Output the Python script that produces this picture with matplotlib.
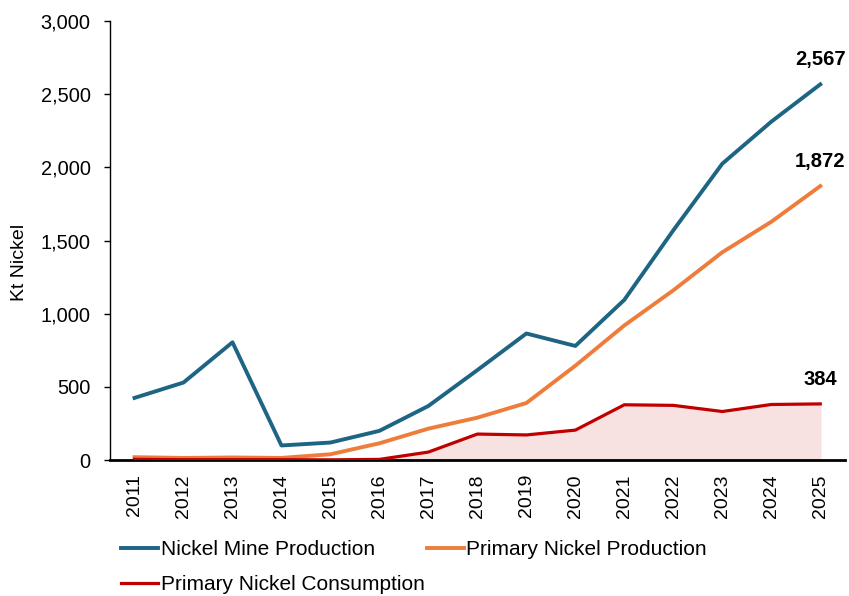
import matplotlib.pyplot as plt
from matplotlib.ticker import FuncFormatter

years = list(range(2011, 2026))
mine_production = [425, 530, 805, 100, 120, 200, 370, 615, 865, 780, 1095, 1570, 2025, 2312, 2567]
primary_production = [20, 15, 18, 15, 40, 115, 215, 290, 390, 645, 920, 1160, 1420, 1628, 1872]
primary_consumption = [5, 3, 3, 3, 2, 5, 55, 178, 172, 205, 378, 374, 332, 380, 384]

plt.rcParams['font.family'] = ['Liberation Sans', 'DejaVu Sans']

fig = plt.figure(figsize=(8.49, 5.96), dpi=100)
ax = fig.add_axes([0.1296, 0.228, 0.8654, 0.7368])

blue = '#1d6583'
orange = '#ee7d3b'
red = '#c00000'

ax.fill_between(years, primary_consumption, 0, color='#f8e1e1', zorder=1)
l1, = ax.plot(years, mine_production, color=blue, lw=2.8, label='Nickel Mine Production', zorder=3)
l2, = ax.plot(years, primary_production, color=orange, lw=2.8, label='Primary Nickel Production', zorder=3)
l3, = ax.plot(years, primary_consumption, color=red, lw=2.3, label='Primary Nickel Consumption', zorder=3)

ax.set_xlim(2010.5, 2025.5)
ax.set_ylim(0, 3000)
ax.set_yticks(range(0, 3001, 500))
ax.yaxis.set_major_formatter(FuncFormatter(lambda v, p: f'{int(v):,}'))
ax.set_xticks(years)
ax.set_xticklabels([str(y) for y in years], rotation=90)
ax.tick_params(axis='x', length=0, labelsize=14, pad=10)
ax.tick_params(axis='y', length=4, width=1, labelsize=14.4, direction='out', pad=10)
ax.set_ylabel('Kt Nickel', fontsize=14)
ax.yaxis.set_label_coords(-0.1116, 0.451)

for s in ['top', 'right']:
    ax.spines[s].set_visible(False)
ax.spines['left'].set_linewidth(1)
ax.spines['bottom'].set_linewidth(2)

for series in [mine_production, primary_production, primary_consumption]:
    ax.annotate(f'{series[-1]:,}', (years[-1], series[-1]), xytext=(0, 11),
                textcoords='offset points', ha='center', va='bottom',
                fontsize=14.5, fontweight='bold')

fig.legend(handles=[l1, l3, l2], ncol=2, loc='upper left',
           bbox_to_anchor=(0.1425, 0.094), frameon=False, fontsize=15,
           borderpad=0, borderaxespad=0,
           handlelength=1.8, handletextpad=0.1, columnspacing=0.1,
           labelspacing=0.78)

fig.savefig('out.png', dpi=100)
